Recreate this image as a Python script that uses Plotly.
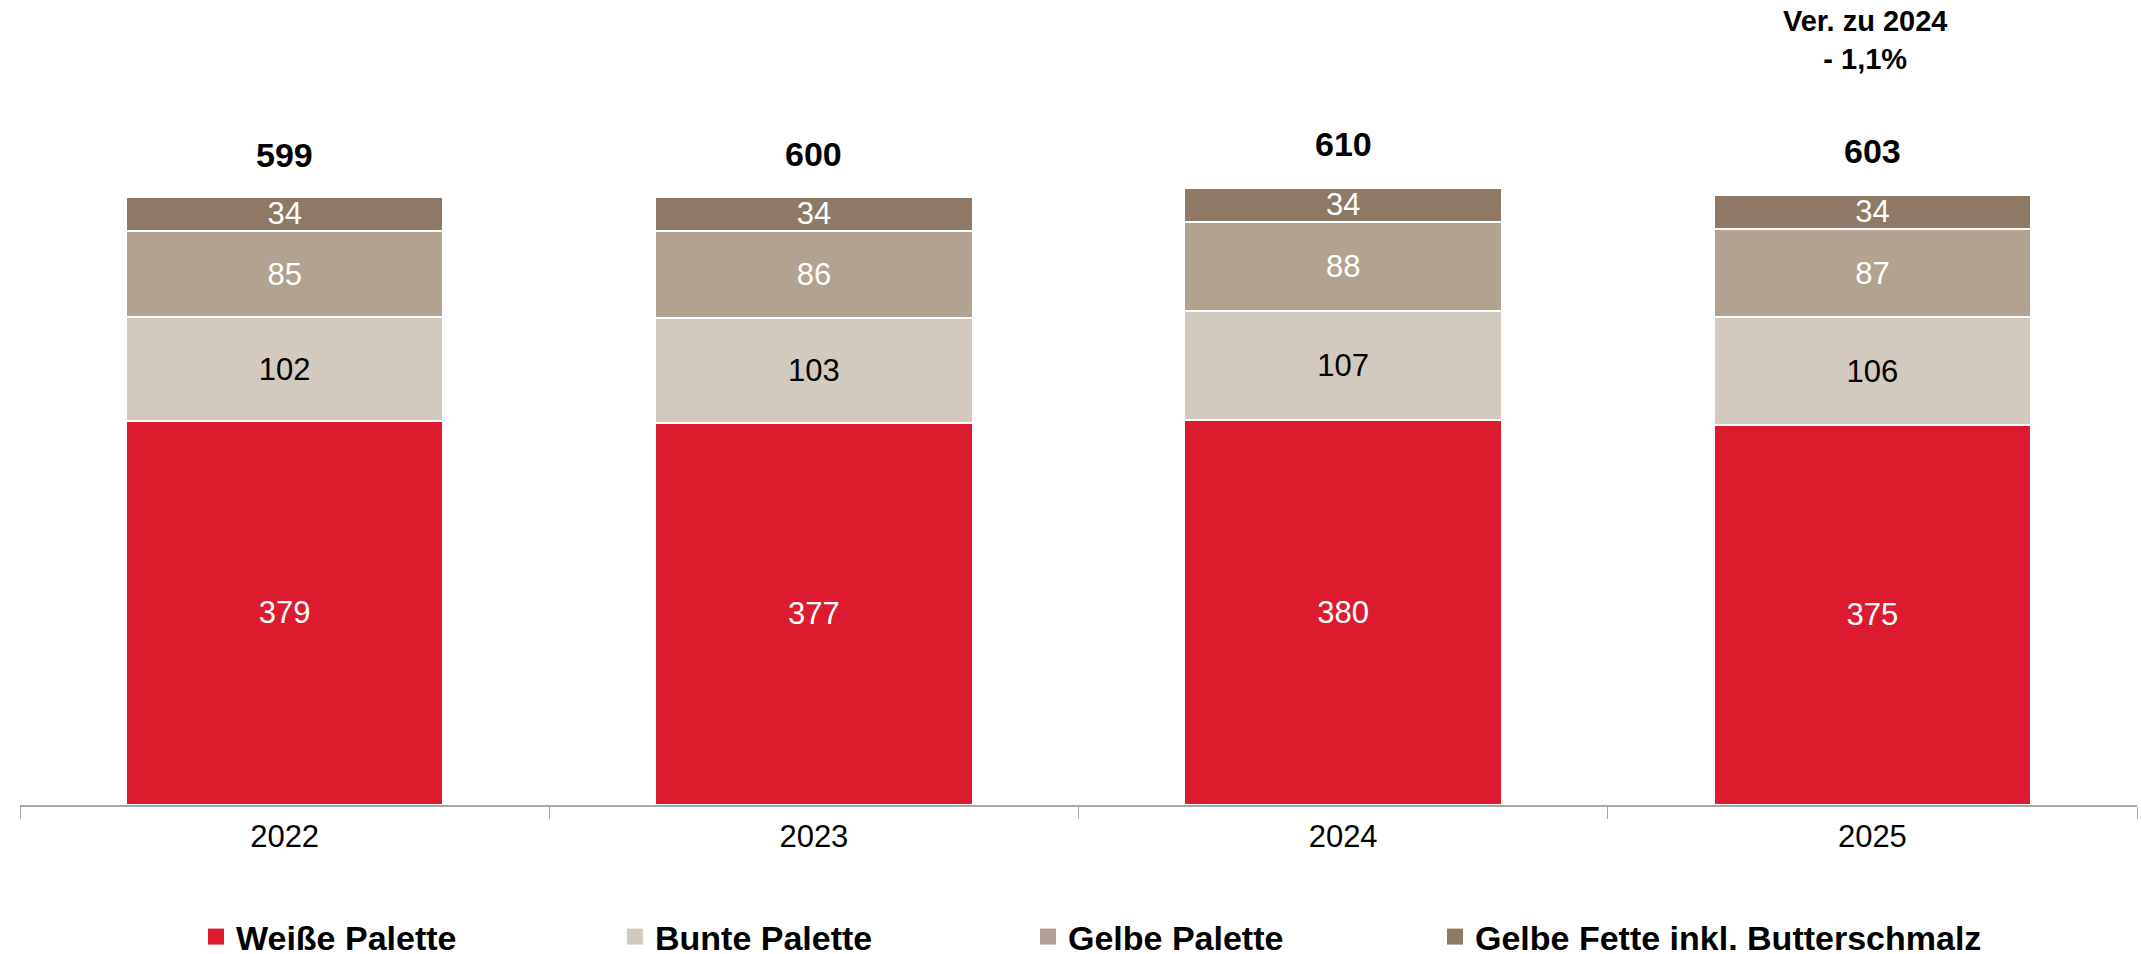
import plotly.graph_objects as go

years = ["2022", "2023", "2024", "2025"]
weisse = [379, 377, 380, 375]
bunte = [102, 103, 107, 106]
gelbe = [85, 86, 88, 87]
fette = [34, 34, 34, 34]
totals = [599, 600, 610, 603]
series_names = ["Weiße Palette", "Bunte Palette", "Gelbe Palette", "Gelbe Fette inkl. Butterschmalz"]
note_text = "Ver. zu 2024<br>- 1,1%"

FONT = "Liberation Sans, Arial, sans-serif"
colors = ["#DC1B2F", "#D2C9BF", "#B2A292", "#8D7966"]
text_colors = ["white", "black", "white", "white"]
legend_ids = ["legend", "legend2", "legend3", "legend4"]
legend_x_px = [196, 615, 1028, 1435]

xpos = list(range(len(years)))
bounds = [i - 0.5 for i in range(len(years) + 1)]

fig = go.Figure()
for name, vals, col, tcol in zip(series_names, [weisse, bunte, gelbe, fette], colors, text_colors):
    fig.add_trace(go.Bar(
        x=xpos, y=vals, name=name, showlegend=False,
        marker=dict(color=col, line=dict(color="white", width=2)),
        text=[str(v) for v in vals], textposition="inside",
        insidetextanchor="middle", textangle=0,
        textfont=dict(family=FONT, size=31, color=tcol),
        hoverinfo="skip",
    ))

# legend entries (one legend per series, so each can be placed freely)
for name, col, lid in zip(series_names, colors, legend_ids):
    fig.add_trace(go.Scatter(
        x=[None], y=[None], mode="markers", name="<b>" + name + "</b>",
        marker=dict(symbol="square", size=17, color=col),
        legend=lid, showlegend=True, hoverinfo="skip",
    ))

for xi, t in zip(xpos, totals):
    fig.add_annotation(x=xi, y=t, text="<b>%d</b>" % t, showarrow=False,
                       yanchor="bottom", yshift=22,
                       font=dict(family=FONT, size=34, color="black"))

fig.add_annotation(x=xpos[-1], y=1, yref="paper", text="<b>" + note_text + "</b>",
                   showarrow=False, yanchor="top", yshift=-3, xshift=-7,
                   font=dict(family=FONT, size=29, color="black"))

W, H = 2141, 954
legend_common = dict(orientation="h", xanchor="left", yanchor="top",
                     xref="container", yref="container", y=(H - 908) / H,
                     itemsizing="trace",
                     font=dict(family=FONT, size=34, color="black"),
                     itemclick=False, itemdoubleclick=False,
                     bgcolor="rgba(0,0,0,0)")
legends = {lid: dict(legend_common, x=px / W) for lid, px in zip(legend_ids, legend_x_px)}

fig.update_layout(
    barmode="stack", bargap=0.4,
    width=W, height=H,
    margin=dict(l=20, r=4, t=0, b=149, autoexpand=False),
    paper_bgcolor="white", plot_bgcolor="white",
    uniformtext=dict(minsize=31, mode="show"),
    showlegend=True,
    font=dict(family=FONT),
    **legends,
)

fig.update_xaxes(type="linear", range=[bounds[0], bounds[-1]], autorange=False,
                 tickmode="array", tickvals=xpos, ticktext=years, ticks="",
                 showline=True, linecolor="#A6A6A6", linewidth=2, zeroline=False,
                 tickfont=dict(family=FONT, size=31, color="black"),
                 ticklabelstandoff=3, showgrid=False,
                 minor=dict(tickmode="array", tickvals=bounds, ticks="outside",
                            ticklen=12, tickcolor="#A6A6A6", tickwidth=1, showgrid=False))
fig.update_yaxes(range=[0, 794], autorange=False, visible=False, showgrid=False)

fig.write_html("out.html", config={"displayModeBar": False},
               post_script="document.body.style.margin='0';document.body.style.overflow='hidden';")
